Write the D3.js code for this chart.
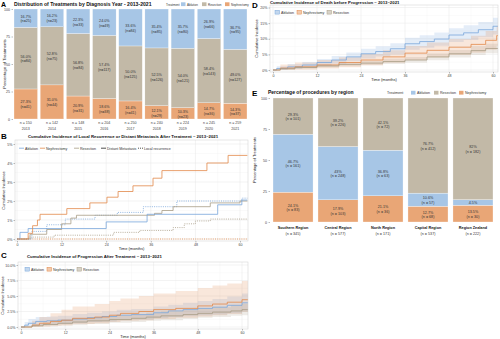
<!DOCTYPE html>
<html>
<head>
<meta charset="utf-8">
<script src="https://cdn.jsdelivr.net/npm/d3@7"></script>
<style>
body { margin: 0; background: #fff; }
text { font-family: "Liberation Sans", Arial, sans-serif; }
</style>
</head>
<body>
<div id="chart"></div>
<script>
// ---- panel A data: treatments by diagnosis year
var years = ["2013", "2014", "2015", "2016", "2017", "2018", "2019", "2020", "2021"];
var yearTotals = [150, 142, 148, 204, 250, 240, 224, 245, 259];
var yearAblationPct = [16.7, 16.2, 22.3, 24.0, 33.6, 35.4, 35.7, 26.9, 36.7];
var yearAblationN = [25, 23, 33, 49, 84, 85, 80, 66, 95];
var yearResectionPct = [56.0, 52.8, 56.8, 57.4, 50.0, 52.5, 54.0, 58.4, 49.0];
var yearResectionN = [84, 75, 84, 117, 125, 126, 121, 143, 127];
var yearNephPct = [27.3, 31.0, 20.9, 18.6, 16.4, 12.1, 10.3, 14.7, 14.3];
var yearNephN = [41, 44, 31, 38, 41, 29, 23, 36, 37];

// ---- panel B data: [months, cumulative incidence %]
var bAblationDist = [[0,0],[0.8,0.35],[3,0.55],[24,0.9],[35,1.3],[54,1.8],[60.5,2.05],[62,2.05]];
var bAblationLocal = [[0,0],[4,0.4],[8,0.75],[13,1.05],[21,1.25],[27,1.4],[34,1.7],[43,2.0],[60.5,2.15],[62,2.15]];
var bNephDist = [[0,0],[3,0.3],[4.2,0.7],[5.5,1.0],[6.2,1.3],[13.4,1.6],[19.6,1.9],[24.2,2.2],[27.2,2.5],[31.2,2.8],[36.6,3.2],[39,3.6],[51.1,4.0],[56.8,4.4],[62,4.4]];
var bNephLocal = [[0,0],[62,0]];
var bResectionDist = [[0,0],[3.5,0.25],[8,0.5],[12,0.8],[14.5,1.1],[16,1.25],[37,1.35],[39,1.5],[42,1.7],[52,1.9],[60,2.0],[62,2.0]];
var bResectionLocal = [[0,0],[3,0.1],[10,0.2],[26,0.35],[33,0.45],[42,0.6],[45,0.8],[48,0.95],[52,1.05],[62,1.05]];

// ---- panel C data: [months, estimate %, lower %, upper %]
var cAblation = [[0,0,0,0],[1,0.3,0,0.8],[2,0.6,0.1,1.3],[4,0.9,0.3,1.6],[7,1.0,0.4,1.7],[10,1.1,0.5,1.8],[14,1.3,0.6,2.1],[18,1.5,0.8,2.3],[22,1.7,0.9,2.5],[26,1.9,1.1,2.8],[30,2.0,1.2,2.9],[36,2.3,1.4,3.3],[40,2.6,1.6,3.6],[44,2.8,1.8,3.9],[48,3.0,1.9,4.2],[52,3.2,2.0,4.5],[56,3.5,2.2,4.9],[60,3.9,2.5,5.4],[62,3.9,2.5,5.4]];
var cNephrectomy = [[0,0,0,0],[3,0.3,0,1.0],[5,0.6,0.1,1.6],[8,0.9,0.2,2.2],[11,1.1,0.3,2.8],[14,1.4,0.5,3.3],[20,1.6,0.6,3.7],[24,1.9,0.8,4.2],[27,2.2,1.0,4.6],[32,2.5,1.1,5.0],[36,2.8,1.3,5.4],[42,3.0,1.5,5.8],[48,3.4,1.7,6.3],[52,3.7,1.9,6.7],[56,4.0,2.1,7.0],[60,4.4,2.4,7.4],[62,4.4,2.4,7.4]];
var cResection = [[0,0,0,0],[3,0.2,0,0.5],[6,0.4,0.1,0.8],[10,0.6,0.2,1.1],[14,0.8,0.3,1.3],[18,1.0,0.5,1.5],[24,1.2,0.7,1.8],[30,1.4,0.8,2.0],[34,1.6,1.0,2.3],[38,1.8,1.1,2.5],[44,2.0,1.3,2.7],[48,2.2,1.5,3.0],[52,2.4,1.6,3.2],[57,2.6,1.8,3.5],[60,2.8,1.9,3.7],[62,2.8,1.9,3.7]];

// ---- panel D data: [months, estimate %, lower %, upper %]
var dAblation = [[0,0,0,0],[1,0.5,0,1.2],[4,1.0,0.3,1.9],[8,1.6,0.7,2.6],[12,2.4,1.3,3.5],[16,3.2,2.0,4.5],[20,4.2,2.8,5.6],[24,5.2,3.7,6.8],[28,5.9,4.3,7.6],[32,6.8,5.0,8.6],[36,8.4,6.5,10.3],[40,9.1,7.1,11.1],[44,9.9,7.8,12.0],[48,11.2,9.0,13.4],[52,11.9,9.6,14.3],[56,12.9,10.5,15.4],[60,14.0,11.4,16.7],[61.5,14.6,11.9,17.4]];
var dNephrectomy = [[0,0,0,0],[2,0.6,0,1.8],[6,1.0,0.1,2.4],[12,1.6,0.5,3.2],[18,2.4,0.9,4.1],[24,3.2,1.5,5.1],[30,4.2,2.3,6.3],[36,5.4,3.2,7.7],[42,6.3,4.0,8.8],[48,7.3,4.8,9.9],[54,8.2,5.5,11.0],[58,9.5,6.5,12.5],[61,11.0,7.8,14.2],[62,11.0,7.8,14.2]];
var dResection = [[0,0,0,0],[2,0.4,0.1,0.8],[6,0.8,0.4,1.3],[12,1.3,0.8,1.9],[18,1.8,1.2,2.5],[24,2.2,1.5,3.0],[30,2.7,1.9,3.6],[36,3.2,2.3,4.2],[42,4.2,3.1,5.3],[48,5.2,4.0,6.4],[54,6.2,4.8,7.6],[58,6.9,5.4,8.4],[62,7.4,5.8,9.0]];

// ---- panel E data: procedures by region
var regions = ["Southern Region", "Central Region", "North Region", "Capital Region", "Region Zealand"];
var regionTotals = [345, 577, 171, 537, 222];
var regionNephPct = [24.1, 17.9, 21.1, 12.7, 13.5];
var regionNephN = [83, 103, 36, 68, 30];
var regionAblationPct = [46.7, 43.0, 36.8, 10.6, 4.5];
var regionAblationN = [161, 248, 63, 57, 10];
var regionResectionPct = [29.3, 39.2, 42.1, 76.7, 82.0];
var regionResectionN = [101, 226, 72, 412, 182];

var barCol = {Ablation: "#a7c6e6", Resection: "#c2b9a7", Nephrectomy: "#e9a676"};
var lineCol = {Ablation: "#79a6da", Resection: "#a89d86", Nephrectomy: "#e2894a"};

var svg = d3.select("#chart").append("svg")
    .attr("width", 500)
    .attr("height", 339)
    .style("background", "#fff");

function label(g, x, y, s, size, anchor, weight, fill) {
    return g.append("text")
        .attr("x", x).attr("y", y)
        .attr("font-size", size)
        .attr("text-anchor", anchor || "start")
        .attr("font-weight", weight || "normal")
        .attr("fill", fill || "#222")
        .text(s);
}

function styleAxis(ax) {
    ax.select(".domain").remove();
    ax.selectAll(".tick line").attr("stroke", "#555").attr("stroke-width", 0.4);
    ax.selectAll(".tick text").attr("font-size", 3.6).attr("fill", "#444")
        .style("font-family", "'Liberation Sans', Arial, sans-serif");
}

function legendItems(g, items, y, size) {
    size = size || 3.6;
    items.forEach(function(it) {
        if (it.kind === "box") {
            g.append("rect").attr("x", it.x).attr("y", y - 3.2).attr("width", 4.5).attr("height", 3.8)
                .attr("fill", it.color).attr("fill-opacity", it.op || 1)
                .attr("stroke", it.stroke || "none").attr("stroke-width", 0.5);
        } else {
            g.append("line").attr("x1", it.x).attr("x2", it.x + 5).attr("y1", y - 1.3).attr("y2", y - 1.3)
                .attr("stroke", it.color).attr("stroke-width", 0.8)
                .attr("stroke-dasharray", it.dash || null);
        }
        label(g, it.x + 6, y, it.text, size, "start", "normal", "#333");
    });
}

// ================= Panel A =================
(function() {
    var g = svg.append("g");
    var x = d3.scaleBand().domain(years).range([14, 247]).paddingInner(0.1);
    var y = d3.scaleLinear().domain([0, 100]).range([119, 9]);

    label(g, 1, 6.5, "A", 7, "start", "bold", "#000");
    label(g, 14, 6, "Distribution of Treatments by Diagnosis Year - 2013-2021", 5.1, "start", "bold", "#111");

    label(g, 166, 5.5, "Treatment", 3, "start", "normal", "#333");
    legendItems(g, [
        {kind: "box", x: 181, color: barCol.Ablation, text: "Ablation"},
        {kind: "box", x: 202, color: barCol.Resection, text: "Resection"},
        {kind: "box", x: 225, color: barCol.Nephrectomy, text: "Nephrectomy"}
    ], 5.5, 3);

    var ax = g.append("g").attr("transform", "translate(13,0)")
        .call(d3.axisLeft(y).tickValues([0, 25, 50, 75, 100]).tickSize(1.5).tickPadding(1.5));
    styleAxis(ax);
    label(g, 0, 0, "Percentage of Treatments", 4.3, "middle", "normal", "#222")
        .attr("transform", "translate(5.5,64) rotate(-90)");

    years.forEach(function(yr, i) {
        var segs = [
            {t: "Nephrectomy", p: yearNephPct[i], n: yearNephN[i]},
            {t: "Resection", p: yearResectionPct[i], n: yearResectionN[i]},
            {t: "Ablation", p: yearAblationPct[i], n: yearAblationN[i]}
        ];
        var tot = d3.sum(segs, function(s) { return s.p; });
        var cum = 0;
        segs.forEach(function(s) {
            s.y0 = cum / tot * 100;
            cum += s.p;
            s.y1 = cum / tot * 100;
        });
        var bar = g.append("g");
        bar.selectAll("rect").data(segs).enter().append("rect")
            .attr("x", x(yr))
            .attr("width", x.bandwidth())
            .attr("y", function(d) { return y(d.y1); })
            .attr("height", function(d) { return y(d.y0) - y(d.y1); })
            .attr("fill", function(d) { return barCol[d.t]; })
            .attr("stroke", "#fff").attr("stroke-width", 0.3);
        segs.forEach(function(s) {
            var cy = y((s.y0 + s.y1) / 2);
            var cx = x(yr) + x.bandwidth() / 2;
            label(bar, cx, cy - 0.5, s.p.toFixed(1) + "%", 3.7, "middle", "normal", "#333");
            label(bar, cx, cy + 4.3, "(n=" + s.n + ")", 3.7, "middle", "normal", "#333");
        });
        var cx = x(yr) + x.bandwidth() / 2;
        label(g, cx, 124, "n = " + yearTotals[i], 3.6, "middle", "normal", "#444");
        label(g, cx, 129.5, yr, 3.6, "middle", "normal", "#444");
    });
})();

// ================= curve panels (B, C, D) =================
function curvePanel(c) {
    var g = svg.append("g");
    var x = d3.scaleLinear().domain([0, 60]).range(c.xr);
    var y = d3.scaleLinear().domain([0, c.yMax]).range(c.yr);
    var w = c.right - c.left, h = c.bottom - c.top;

    g.append("rect").attr("x", c.left).attr("y", c.top).attr("width", w).attr("height", h).attr("fill", "#fff");

    var grid = g.append("g");
    d3.range(6, 62, 12).forEach(function(t) {
        grid.append("line").attr("x1", x(t)).attr("x2", x(t)).attr("y1", c.top).attr("y2", c.bottom)
            .attr("stroke", "#f3f3f3").attr("stroke-width", 0.4);
    });
    c.yMinor.forEach(function(v) {
        grid.append("line").attr("x1", c.left).attr("x2", c.right).attr("y1", y(v)).attr("y2", y(v))
            .attr("stroke", "#f3f3f3").attr("stroke-width", 0.4);
    });
    d3.range(0, 61, 12).forEach(function(t) {
        grid.append("line").attr("x1", x(t)).attr("x2", x(t)).attr("y1", c.top).attr("y2", c.bottom)
            .attr("stroke", "#e6e6e6").attr("stroke-width", 0.5);
    });
    c.yTicks.forEach(function(v) {
        grid.append("line").attr("x1", c.left).attr("x2", c.right).attr("y1", y(v)).attr("y2", y(v))
            .attr("stroke", "#e6e6e6").attr("stroke-width", 0.5);
    });

    var clipId = "clip" + c.id;
    g.append("clipPath").attr("id", clipId).append("rect")
        .attr("x", c.left).attr("y", c.top).attr("width", w).attr("height", h);
    var plot = g.append("g").attr("clip-path", "url(#" + clipId + ")");

    var area = d3.area().curve(d3.curveStepAfter)
        .x(function(d) { return x(d[0]); })
        .y0(function(d) { return y(d[2]); })
        .y1(function(d) { return y(d[3]); });
    var line = d3.line().curve(d3.curveStepAfter)
        .x(function(d) { return x(d[0]); })
        .y(function(d) { return y(d[1]); });

    c.series.forEach(function(s) {
        if (s.ribbon) {
            plot.append("path").attr("d", area(s.data))
                .attr("fill", s.color).attr("fill-opacity", 0.2).attr("stroke", "none");
        }
    });
    c.series.forEach(function(s) {
        plot.append("path").attr("d", line(s.data))
            .attr("fill", "none").attr("stroke", s.color)
            .attr("stroke-width", s.width || 0.8)
            .attr("stroke-dasharray", s.dash || null);
    });

    g.append("rect").attr("x", c.left).attr("y", c.top).attr("width", w).attr("height", h)
        .attr("fill", "none").attr("stroke", "#cfcfcf").attr("stroke-width", 0.5);

    var axx = g.append("g").attr("transform", "translate(0," + c.bottom + ")")
        .call(d3.axisBottom(x).tickValues([0, 12, 24, 36, 48, 60]).tickSize(1.5).tickPadding(1));
    styleAxis(axx);
    var axy = g.append("g").attr("transform", "translate(" + c.left + ",0)")
        .call(d3.axisLeft(y).tickValues(c.yTicks).tickFormat(c.yFmt).tickSize(1.5).tickPadding(1));
    styleAxis(axy);

    label(g, (c.left + c.right) / 2, c.bottom + 8.5, "Time (months)", 4, "middle", "normal", "#222");
    label(g, 0, 0, "Cumulative Incidence", 4, "middle", "normal", "#222")
        .attr("transform", "translate(" + c.yTitleX + "," + ((c.top + c.bottom) / 2) + ") rotate(-90)");

    label(g, c.letterX, c.letterY, c.letter, 8, "start", "bold", "#000");
    label(g, c.titleX, c.titleY, c.title, 4.3, c.titleAnchor || "start", "bold", "#111");
    legendItems(g, c.legend, c.legendY);
}

curvePanel({
    id: "B", left: 15, right: 248, top: 140, bottom: 241,
    xr: [17, 240], yr: [239, 144], yMax: 5,
    yTicks: [0, 1, 2, 3, 4, 5], yMinor: [0.5, 1.5, 2.5, 3.5, 4.5],
    yFmt: function(d) { return d + "%"; },
    yTitleX: 5,
    letter: "B", letterX: 1, letterY: 139,
    title: "Cumulative Incidence of Local Recurrence or Distant Metastasis After Treatment \u2013 2013\u20132021",
    titleX: 123, titleY: 137.5, titleAnchor: "middle",
    legendY: 149.5,
    legend: [
        {kind: "line", x: 19, color: lineCol.Ablation, text: "Ablation"},
        {kind: "line", x: 40, color: lineCol.Nephrectomy, text: "Nephrectomy"},
        {kind: "line", x: 74, color: lineCol.Resection, text: "Resection"},
        {kind: "line", x: 101, color: "#222", text: "Distant Metastasis"},
        {kind: "line", x: 138, color: "#222", dash: "1,1", text: "Local recurrence"}
    ],
    series: [
        {data: bResectionLocal, color: lineCol.Resection, dash: "1,1.2"},
        {data: bNephLocal, color: lineCol.Nephrectomy, dash: "1,1.2"},
        {data: bAblationLocal, color: lineCol.Ablation, dash: "1,1.2"},
        {data: bResectionDist, color: lineCol.Resection},
        {data: bAblationDist, color: lineCol.Ablation},
        {data: bNephDist, color: lineCol.Nephrectomy}
    ]
});

curvePanel({
    id: "C", left: 18, right: 248, top: 262, bottom: 329,
    xr: [21, 242], yr: [327, 265], yMax: 10,
    yTicks: [0, 2.5, 5, 7.5, 10], yMinor: [1.25, 3.75, 6.25, 8.75],
    yFmt: function(d) { return d.toFixed(1) + "%"; },
    yTitleX: 4,
    letter: "C", letterX: 1, letterY: 258,
    title: "Cumulative Incidence of Progression After Treatment \u2013 2013\u20132021",
    titleX: 27, titleY: 257.5,
    legendY: 270.5,
    legend: [
        {kind: "box", x: 25, color: lineCol.Ablation, op: 0.45, stroke: lineCol.Ablation, text: "Ablation"},
        {kind: "box", x: 47, color: lineCol.Nephrectomy, op: 0.45, stroke: lineCol.Nephrectomy, text: "Nephrectomy"},
        {kind: "box", x: 77, color: lineCol.Resection, op: 0.45, stroke: lineCol.Resection, text: "Resection"}
    ],
    series: [
        {data: cAblation, color: lineCol.Ablation, ribbon: true},
        {data: cNephrectomy, color: lineCol.Nephrectomy, ribbon: true},
        {data: cResection, color: lineCol.Resection, ribbon: true}
    ]
});

curvePanel({
    id: "D", left: 270, right: 498, top: 5, bottom: 72,
    xr: [273, 493], yr: [70, 7.5], yMax: 20,
    yTicks: [0, 5, 10, 15, 20], yMinor: [2.5, 7.5, 12.5, 17.5],
    yFmt: function(d) { return d + "%"; },
    yTitleX: 258,
    letter: "D", letterX: 252, letterY: 8,
    title: "Cumulative Incidence of Death before Progression \u2013 2013\u20132021",
    titleX: 270, titleY: 3.8,
    legendY: 13.5,
    legend: [
        {kind: "box", x: 275, color: lineCol.Ablation, op: 0.45, stroke: lineCol.Ablation, text: "Ablation"},
        {kind: "box", x: 297, color: lineCol.Nephrectomy, op: 0.45, stroke: lineCol.Nephrectomy, text: "Nephrectomy"},
        {kind: "box", x: 327, color: lineCol.Resection, op: 0.45, stroke: lineCol.Resection, text: "Resection"}
    ],
    series: [
        {data: dAblation, color: lineCol.Ablation, ribbon: true},
        {data: dNephrectomy, color: lineCol.Nephrectomy, ribbon: true},
        {data: dResection, color: lineCol.Resection, ribbon: true}
    ]
});

// ================= Panel E =================
(function() {
    var g = svg.append("g");
    var x = d3.scaleBand().domain(regions).range([273, 493]).paddingInner(0.11);
    var y = d3.scaleLinear().domain([0, 100]).range([222, 98]);
    var fmt = function(v) { return (+v.toFixed(1)) + "%"; };

    label(g, 252, 96, "E", 8, "start", "bold", "#000");
    label(g, 268, 94, "Percentage of procedures by region", 5, "start", "bold", "#111");
    label(g, 387, 94, "Treatment", 3.6, "start", "normal", "#333");
    legendItems(g, [
        {kind: "box", x: 411, color: barCol.Ablation, text: "Ablation"},
        {kind: "box", x: 434, color: barCol.Resection, text: "Resection"},
        {kind: "box", x: 459, color: barCol.Nephrectomy, text: "Nephrectomy"}
    ], 94);

    var ax = g.append("g").attr("transform", "translate(270,0)")
        .call(d3.axisLeft(y).tickValues([0, 25, 50, 75, 100]).tickSize(1.5).tickPadding(1.5));
    styleAxis(ax);
    label(g, 0, 0, "Percentage of Treatments", 4, "middle", "normal", "#222")
        .attr("transform", "translate(256,160) rotate(-90)");

    regions.forEach(function(r, i) {
        var segs = [
            {t: "Nephrectomy", p: regionNephPct[i], n: regionNephN[i]},
            {t: "Ablation", p: regionAblationPct[i], n: regionAblationN[i]},
            {t: "Resection", p: regionResectionPct[i], n: regionResectionN[i]}
        ];
        var tot = d3.sum(segs, function(s) { return s.p; });
        var cum = 0;
        segs.forEach(function(s) {
            s.y0 = cum / tot * 100;
            cum += s.p;
            s.y1 = cum / tot * 100;
        });
        var cx = x(r) + x.bandwidth() / 2;
        var bar = g.append("g");
        bar.selectAll("rect").data(segs).enter().append("rect")
            .attr("x", x(r))
            .attr("width", x.bandwidth())
            .attr("y", function(d) { return y(d.y1); })
            .attr("height", function(d) { return y(d.y0) - y(d.y1); })
            .attr("fill", function(d) { return barCol[d.t]; })
            .attr("stroke", "#fff").attr("stroke-width", 0.3);
        segs.forEach(function(s) {
            var cy = y((s.y0 + s.y1) / 2);
            if (s.p < 8) {
                label(bar, cx, cy + 1.4, fmt(s.p), 3.7, "middle", "normal", "#333");
            } else {
                label(bar, cx, cy - 0.5, fmt(s.p), 3.7, "middle", "normal", "#333");
                label(bar, cx, cy + 4.2, "(n = " + s.n + ")", 3.7, "middle", "normal", "#333");
            }
        });
        label(g, cx, 228.5, r, 3.8, "middle", "bold", "#111");
        label(g, cx, 235, "(n = " + regionTotals[i] + ")", 3.7, "middle", "normal", "#333");
    });
})();
</script>
</body>
</html>
